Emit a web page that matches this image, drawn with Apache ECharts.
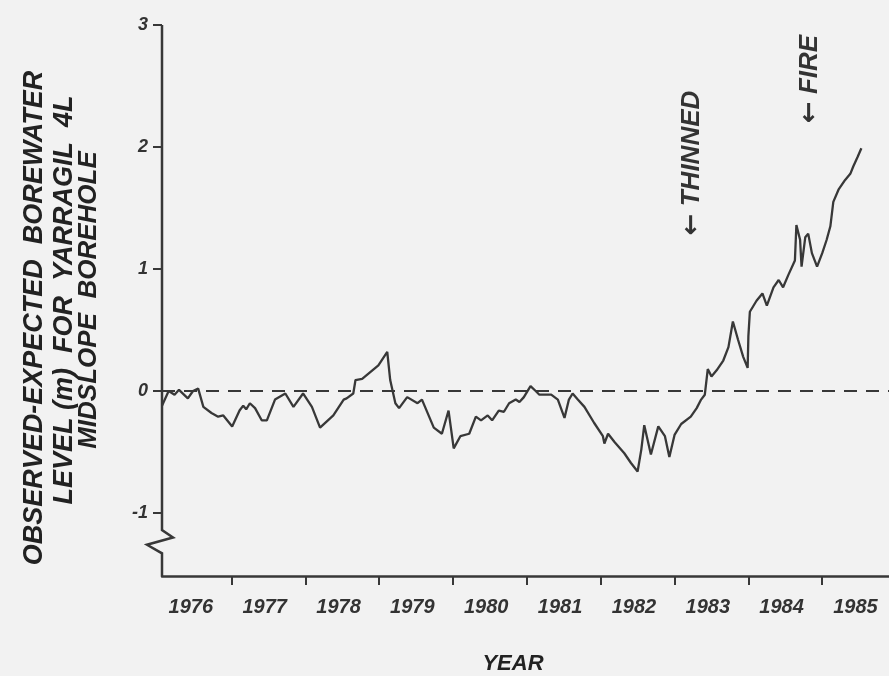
<!DOCTYPE html>
<html>
<head>
<meta charset="utf-8">
<script src="https://cdn.jsdelivr.net/npm/echarts@6/dist/echarts.min.js"></script>
<style>
  html, body { margin: 0; padding: 0; background: #f2f2f2; }
  #main { width: 889px; height: 676px; }
</style>
</head>
<body>
<div id="main"></div>
<script>
// observed - expected borewater level (m)
var years = [
  1976.06, 1976.15, 1976.23, 1976.29, 1976.41, 1976.48, 1976.55, 1976.62, 1976.73, 1976.82,
  1976.89, 1977.01, 1977.11, 1977.16, 1977.20, 1977.25, 1977.32, 1977.41, 1977.48, 1977.59,
  1977.73, 1977.84, 1977.97, 1978.09, 1978.20, 1978.38, 1978.52, 1978.56, 1978.65, 1978.68,
  1978.77, 1978.99, 1979.11, 1979.15, 1979.22, 1979.27, 1979.38, 1979.52, 1979.58, 1979.74,
  1979.85, 1979.94, 1980.01, 1980.10, 1980.22, 1980.31, 1980.38, 1980.47, 1980.53, 1980.62,
  1980.69, 1980.76, 1980.85, 1980.90, 1980.96, 1981.05, 1981.12, 1981.17, 1981.33, 1981.42,
  1981.51, 1981.57, 1981.62, 1981.69, 1981.78, 1981.91, 1982.03, 1982.05, 1982.10, 1982.19,
  1982.32, 1982.41, 1982.50, 1982.55, 1982.59, 1982.68, 1982.78, 1982.87, 1982.93, 1983.00,
  1983.09, 1983.22, 1983.30, 1983.36, 1983.41, 1983.45, 1983.50, 1983.57, 1983.66, 1983.73,
  1983.79, 1983.86, 1983.93, 1983.99, 1984.00, 1984.02, 1984.11, 1984.19, 1984.25, 1984.34,
  1984.41, 1984.47, 1984.54, 1984.63, 1984.65, 1984.70, 1984.72, 1984.77, 1984.81, 1984.86,
  1984.93, 1985.00, 1985.06, 1985.11, 1985.15, 1985.22, 1985.31, 1985.38, 1985.42, 1985.48,
  1985.53
];
var levels = [
  -0.12, 0.00, -0.03, 0.01, -0.06, 0.00, 0.02, -0.13, -0.18, -0.21,
  -0.20, -0.29, -0.16, -0.12, -0.15, -0.10, -0.14, -0.24, -0.24, -0.07,
  -0.02, -0.13, -0.02, -0.13, -0.30, -0.20, -0.07, -0.06, -0.02, 0.09,
  0.10, 0.21, 0.32, 0.09, -0.10, -0.14, -0.05, -0.10, -0.07, -0.30,
  -0.35, -0.16, -0.47, -0.37, -0.35, -0.21, -0.24, -0.20, -0.24, -0.16,
  -0.17, -0.10, -0.07, -0.09, -0.05, 0.04, 0.00, -0.03, -0.03, -0.07,
  -0.22, -0.07, -0.02, -0.07, -0.13, -0.26, -0.37, -0.43, -0.35, -0.42,
  -0.51, -0.59, -0.66, -0.48, -0.28, -0.52, -0.29, -0.37, -0.54, -0.36,
  -0.27, -0.21, -0.14, -0.07, -0.03, 0.18, 0.12, 0.17, 0.25, 0.36,
  0.57, 0.42, 0.28, 0.19, 0.45, 0.65, 0.74, 0.80, 0.70, 0.85,
  0.91, 0.85, 0.95, 1.07, 1.36, 1.24, 1.02, 1.26, 1.29, 1.13,
  1.02, 1.13, 1.24, 1.35, 1.55, 1.65, 1.73, 1.78, 1.84, 1.92,
  1.99
];

var yTicks = [-1, 0, 1, 2, 3];
var yearTicks = [1977, 1978, 1979, 1980, 1981, 1982, 1983, 1984, 1985];
var yearLabelPos = [1976.45, 1977.45, 1978.45, 1979.45, 1980.45, 1981.45, 1982.45, 1983.45, 1984.45, 1985.45];
var axisBreak = [-1.14, -1.2, -1.26, -1.33];

var xMin = 1976.06, xMax = 1985.904;
var yMin = -1.516, yMax = 3;

var ink = '#383838';
var font = '"Liberation Sans", Arial, sans-serif';
var arrowRich = { a: { fontFamily: '"DejaVu Sans"', fontWeight: 'bold', fontSize: 26, fill: '#333' } };

var points = years.map(function (y, i) { return [y, levels[i]]; });

var myChart = echarts.init(document.getElementById('main'));

var option = {
  backgroundColor: '#f2f2f2',
  animation: false,
  grid: { left: 162, right: 0, top: 25, bottom: 100 },
  xAxis: {
    type: 'value',
    min: xMin,
    max: xMax,
    axisLine: { show: true, onZero: false, lineStyle: { color: ink, width: 2.5 } },
    axisTick: { show: true, customValues: yearTicks, length: 9, lineStyle: { color: ink, width: 2 } },
    axisLabel: {
      customValues: yearLabelPos,
      formatter: function (v) { return String(Math.floor(v + 1e-6)); },
      color: '#333', fontFamily: font, fontStyle: 'italic', fontWeight: 'bold', fontSize: 20, margin: 21
    },
    splitLine: { show: false }
  },
  yAxis: {
    type: 'value',
    min: yMin,
    max: yMax,
    axisLine: { show: false, onZero: false },
    axisTick: { show: true, customValues: yTicks, length: 9, lineStyle: { color: ink, width: 2 } },
    axisLabel: {
      customValues: yTicks,
      color: '#333', fontFamily: font, fontStyle: 'italic', fontWeight: 'bold', fontSize: 18, margin: 14
    },
    splitLine: { show: false }
  },
  graphic: [
    { type: 'text', x: 35, y: 318, rotation: Math.PI / 2,
      style: { text: 'OBSERVED-EXPECTED  BOREWATER', align: 'center', verticalAlign: 'middle',
        fill: '#222', font: 'italic bold 27px ' + font } },
    { type: 'text', x: 65, y: 300, rotation: Math.PI / 2,
      style: { text: 'LEVEL (m)  FOR  YARRAGIL  4L', align: 'center', verticalAlign: 'middle',
        fill: '#222', font: 'italic bold 27px ' + font } },
    { type: 'text', x: 89, y: 300, rotation: Math.PI / 2,
      style: { text: 'MIDSLOPE  BOREHOLE', align: 'center', verticalAlign: 'middle',
        fill: '#222', font: 'italic bold 26px ' + font } },
    { type: 'text', x: 513, y: 664,
      style: { text: 'YEAR', align: 'center', verticalAlign: 'middle',
        fill: '#222', font: 'italic bold 22px ' + font } },
    { type: 'text', x: 692, y: 163, rotation: Math.PI / 2,
      style: { text: '{a|\u2190} THINNED', rich: arrowRich, align: 'center', verticalAlign: 'middle',
        fill: '#333', font: 'italic bold 26px ' + font } },
    { type: 'text', x: 810, y: 79, rotation: Math.PI / 2,
      style: { text: '{a|\u2190} FIRE', rich: arrowRich, align: 'center', verticalAlign: 'middle',
        fill: '#333', font: 'italic bold 26px ' + font } }
  ],
  series: [
    {
      type: 'line',
      data: points,
      symbol: 'none',
      lineStyle: { color: ink, width: 2.3 },
      markLine: {
        silent: true,
        symbol: 'none',
        label: { show: false },
        lineStyle: { color: ink, width: 2, type: [13, 9] },
        data: [{ yAxis: 0 }]
      }
    },
    {
      // y axis line with the break mark near -1.2
      type: 'custom',
      silent: true,
      clip: false,
      data: [[xMin, 0]],
      renderItem: function (params, api) {
        var top = api.coord([xMin, yMax]);
        var bottom = api.coord([xMin, yMin]);
        var b = axisBreak.map(function (v) { return api.coord([xMin, v]); });
        var pts = [
          top,
          b[0],
          [b[1][0] + 11, b[1][1]],
          [b[2][0] - 15, b[2][1]],
          b[3],
          bottom
        ];
        return {
          type: 'polyline',
          shape: { points: pts },
          style: { stroke: ink, lineWidth: 2.5, fill: null }
        };
      }
    }
  ]
};

myChart.setOption(option);
</script>
</body>
</html>
